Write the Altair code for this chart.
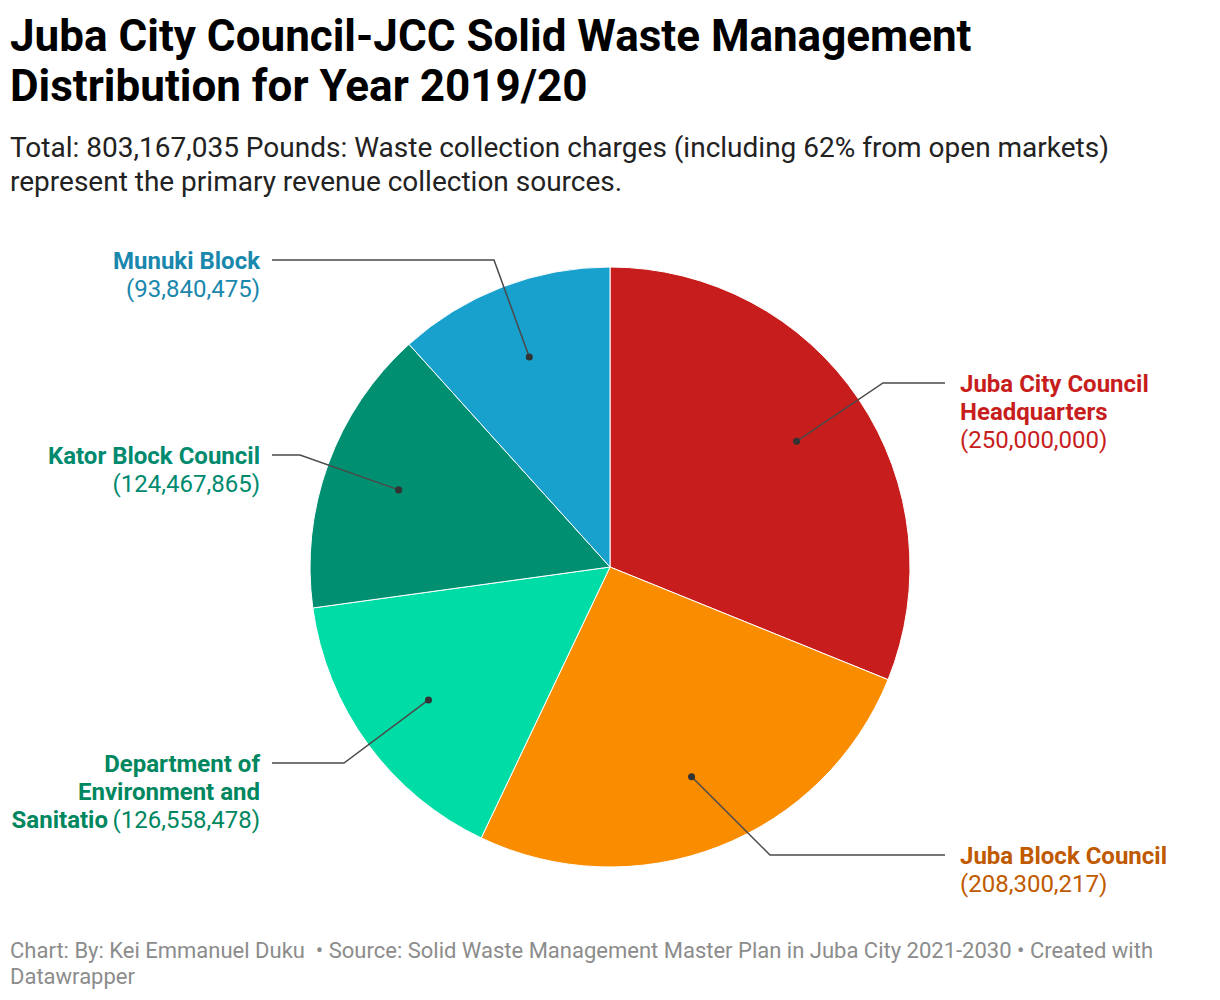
import numpy as np
import pandas as pd
import altair as alt

# ---- data ----
names = ["Juba City Council Headquarters", "Juba Block Council",
         "Department of Environment and Sanitatio", "Kator Block Council", "Munuki Block"]
values = [250000000, 208300217, 126558478, 124467865, 93840475]
name_lines = [["Juba City Council", "Headquarters"], ["Juba Block Council"],
              ["Department of", "Environment and", "Sanitatio"], ["Kator Block Council"],
              ["Munuki Block"]]
slice_colors = ["#c71e1d", "#fa8c00", "#00dca6", "#008f70", "#18a1cd"]
label_colors = ["#c71e1d", "#c05a00", "#00875f", "#008a6e", "#1a87ad"]

title_lines = ["Juba City Council-JCC Solid Waste Management", "Distribution for Year 2019/20"]
subtitle_lines = ["Total: 803,167,035 Pounds: Waste collection charges (including 62% from open markets)",
                  "represent the primary revenue collection sources."]
footer_lines = ["Chart: By: Kei Emmanuel Duku \u00a0\u2022 Source: Solid Waste Management Master Plan in Juba City 2021-2030 \u2022 Created with",
                "Datawrapper"]

# ---- layout (pixels in view) ----
W, H = 1204, 984
CX, CY, R = 602, 559, 300
FONT = "Roboto"
LABEL_SIZE = 24
LINE_H = 28
RIGHT_X, LEFT_X = 952, 252
RIGHT_END, LEFT_END = 937, 264
# elbow points of the leader lines (layout), one per slice
elbows = [(875, 375), (762, 847), (336, 755), (292, 447), (486, 252)]

xs = alt.Scale(domain=[0, W], range=[0, W])
ys = alt.Scale(domain=[0, H], range=[0, H])

vals = np.array(values, dtype=float)
total = vals.sum()
cum = np.cumsum(vals) - vals
mid = (cum + vals / 2) / total * 2 * np.pi

pie_df = pd.DataFrame({"name": names, "value": values, "order": range(len(names))})

pie = alt.Chart(pie_df).mark_arc(outerRadius=R, stroke="white", strokeWidth=1).encode(
    theta=alt.Theta("value:Q", stack=True),
    order=alt.Order("order:Q"),
    color=alt.Color("name:N", scale=alt.Scale(domain=names, range=slice_colors), legend=None),
    x=alt.value(CX), y=alt.value(CY),
)

line_rows, dot_rows, text_rows = [], [], []
for i, n in enumerate(names):
    s, c = np.sin(mid[i]), np.cos(mid[i])
    dx, dy = CX + 0.75 * R * s, CY - 0.75 * R * c
    ex, ey = elbows[i]
    right = s > 0
    endx = RIGHT_END if right else LEFT_END
    for k, (px, py) in enumerate([(dx, dy), (ex, ey), (endx, ey)]):
        line_rows.append({"name": n, "k": k, "x": px, "y": py})
    dot_rows.append({"name": n, "x": dx, "y": dy})
    tx = RIGHT_X if right else LEFT_X
    align = "left" if right else "right"
    value_str = "({:,})".format(values[i])
    nl = name_lines[i]
    for j, t in enumerate(nl):
        text_rows.append({"name": n, "t": t, "x": tx, "y": ey + j * LINE_H, "w": "bold",
                          "al": align, "sh": 0})
    if n.startswith("Department"):
        text_rows[-1]["sh"] = 1
        text_rows.append({"name": n, "t": value_str, "x": tx, "y": ey + (len(nl) - 1) * LINE_H,
                          "w": "normal", "al": align, "sh": 0})
    else:
        text_rows.append({"name": n, "t": value_str, "x": tx, "y": ey + len(nl) * LINE_H,
                          "w": "normal", "al": align, "sh": 0})

line_df = pd.DataFrame(line_rows)
dot_df = pd.DataFrame(dot_rows)
text_df = pd.DataFrame(text_rows)

lines = alt.Chart(line_df).mark_line(color="#4a4a4a", strokeWidth=1.5).encode(
    x=alt.X("x:Q", scale=xs, axis=None), y=alt.Y("y:Q", scale=ys, axis=None),
    detail="name:N", order="k:Q")
dots = alt.Chart(dot_df).mark_circle(color="#333333", size=50, opacity=1).encode(
    x=alt.X("x:Q", scale=xs, axis=None), y=alt.Y("y:Q", scale=ys, axis=None))

label_color = alt.Color("name:N", scale=alt.Scale(domain=names, range=label_colors), legend=None)

def label_layer(weight, align, sh):
    d = text_df[(text_df["w"] == weight) & (text_df["al"] == align) & (text_df["sh"] == sh)]
    return alt.Chart(d).mark_text(font=FONT, fontSize=LABEL_SIZE, fontWeight=weight, align=align,
                                  baseline="middle", dx=(-152 if sh else 0), dy=2).encode(
        x=alt.X("x:Q", scale=xs, axis=None), y=alt.Y("y:Q", scale=ys, axis=None),
        text="t:N", color=label_color)

labels = []
for w in ["bold", "normal"]:
    for a in ["left", "right"]:
        for s in [0, 1]:
            if len(text_df[(text_df["w"] == w) & (text_df["al"] == a) & (text_df["sh"] == s)]):
                labels.append(label_layer(w, a, s))

def text_block(lines_, x0, y0, lh, size, weight, color):
    d = pd.DataFrame({"t": lines_, "x": [x0] * len(lines_), "y": [y0 + i * lh for i in range(len(lines_))]})
    return alt.Chart(d).mark_text(font=FONT, fontSize=size, fontWeight=weight, align="left",
                                  baseline="alphabetic", color=color).encode(
        x=alt.X("x:Q", scale=xs, axis=None), y=alt.Y("y:Q", scale=ys, axis=None), text="t:N")

title = text_block(title_lines, 2, 43, 50, 44, "bold", "#000000")
subtitle = text_block(subtitle_lines, 2, 149, 34, 28, "normal", "#222222")
footer = text_block(footer_lines, 2, 950, 26, 22, "normal", "#8c8c8c")

chart = alt.layer(pie, lines, dots, *labels, title, subtitle, footer).properties(
    width=W, height=H, padding=0, background="white"
).resolve_scale(color="independent").configure_view(stroke=None)

chart.save("out.html", embed_options={"renderer": "svg", "actions": False})
